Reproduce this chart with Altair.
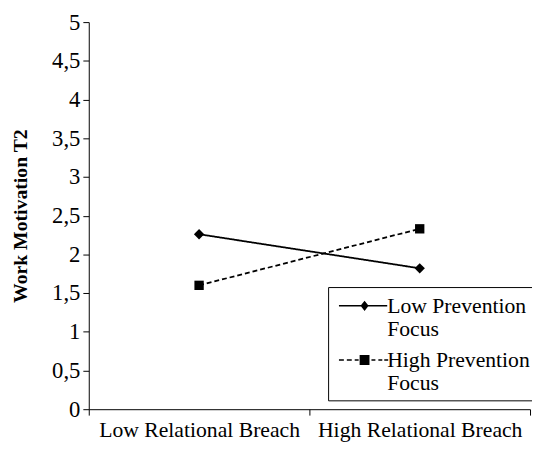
import altair as alt
import pandas as pd

categories = ["Low Relational Breach", "High Relational Breach"]
series = ["Low Prevention Focus", "High Prevention Focus"]
low_prevention = [2.26, 1.82]
high_prevention = [1.60, 2.33]
y_ticks = [0, 0.5, 1, 1.5, 2, 2.5, 3, 3.5, 4, 4.5, 5]

rows = []
for c, v in zip(categories, low_prevention):
    rows.append({"breach": c, "series": series[0], "value": v})
for c, v in zip(categories, high_prevention):
    rows.append({"breach": c, "series": series[1], "value": v})
df = pd.DataFrame(rows)

FONT = "Liberation Serif"

x_enc = alt.X("breach:N", sort=categories, title=None,
              scale=alt.Scale(type="band", paddingInner=0, paddingOuter=0),
              axis=alt.Axis(tickBand="extent", labelAngle=0, labelFont=FONT,
                            labelFontSize=22, labelColor="black", labelLimit=400,
                            labelPadding=5, tickSize=6, tickColor="black",
                            domainColor="black", tickWidth=1, domainWidth=1))
y_enc = alt.Y("value:Q", title="Work Motivation T2",
              scale=alt.Scale(domain=[0, 5], nice=False),
              axis=alt.Axis(values=y_ticks,
                            labelExpr="replace(format(datum.value, '~g'), '.', ',')",
                            grid=False, labelFont=FONT, labelFontSize=23,
                            labelColor="black", tickSize=6, tickColor="black",
                            domainColor="black", labelPadding=3,
                            titleFont=FONT, titleFontSize=20, titleFontWeight="bold",
                            titleColor="black", titlePadding=21))

lines = alt.Chart(df).mark_line(color="black", strokeWidth=1.8).encode(
    x=x_enc, y=y_enc,
    strokeDash=alt.StrokeDash("series:N", sort=series,
                              scale=alt.Scale(domain=series, range=[[1, 0], [5, 3]]),
                              legend=None),
)

points_low = alt.Chart(df).transform_filter(
    alt.datum.series == series[0]
).mark_point(filled=True, color="black", opacity=1, shape="diamond", size=110).encode(
    x=x_enc, y=y_enc)

points_high = alt.Chart(df).transform_filter(
    alt.datum.series == series[1]
).mark_point(filled=True, color="black", opacity=1, shape="square", size=90).encode(
    x=x_enc, y=y_enc)

# legend glyphs (filled outlines): line + marker, in symbol units
low_sym = ("M-0.615,-0.06H3.154V0.06H-0.615Z"
           "M1.385,-0.4L1.7,0L1.385,0.4L1.07,0Z")
high_sym = ("M-0.615,-0.06H-0.231V0.06H-0.615Z"
            "M0,-0.06H0.385V0.06H0Z"
            "M0.615,-0.06H0.923V0.06H0.615Z"
            "M1.0,-0.385H1.769V0.385H1.0Z"
            "M1.923,-0.06H2.231V0.06H1.923Z"
            "M2.462,-0.06H2.769V0.06H2.462Z"
            "M2.923,-0.06H3.231V0.06H2.923Z")

legend_layer = alt.Chart(df).mark_point(filled=True, color="black", size=1).encode(
    x=x_enc, y=y_enc,
    shape=alt.Shape("series:N", sort=series,
                    scale=alt.Scale(domain=series, range=[low_sym, high_sym]),
                    legend=alt.Legend(
                        orient="none", legendX=243, legendY=269, title=None,
                        strokeColor="black", fillColor="white", padding=6,
                        symbolSize=676, symbolStrokeWidth=0, symbolOpacity=1,
                        symbolFillColor="black", symbolStrokeColor="black",
                        labelFont=FONT, labelFontSize=22, labelColor="black",
                        labelLimit=300, labelOffset=28, rowPadding=7,
                        labelExpr="datum.label == 'Low Prevention Focus' ? ['Low Prevention', 'Focus'] : ['High Prevention', 'Focus']",
                    )),
)

chart = alt.layer(legend_layer, lines, points_low, points_high).properties(
    width=448, height=393,
    autosize=alt.AutoSizeParams(type="none"),
    padding={"left": 82, "top": 11, "right": 2, "bottom": 32},
    background="white",
).configure_view(stroke=None)

chart.save("out.html", embed_options={"renderer": "svg", "actions": False})
